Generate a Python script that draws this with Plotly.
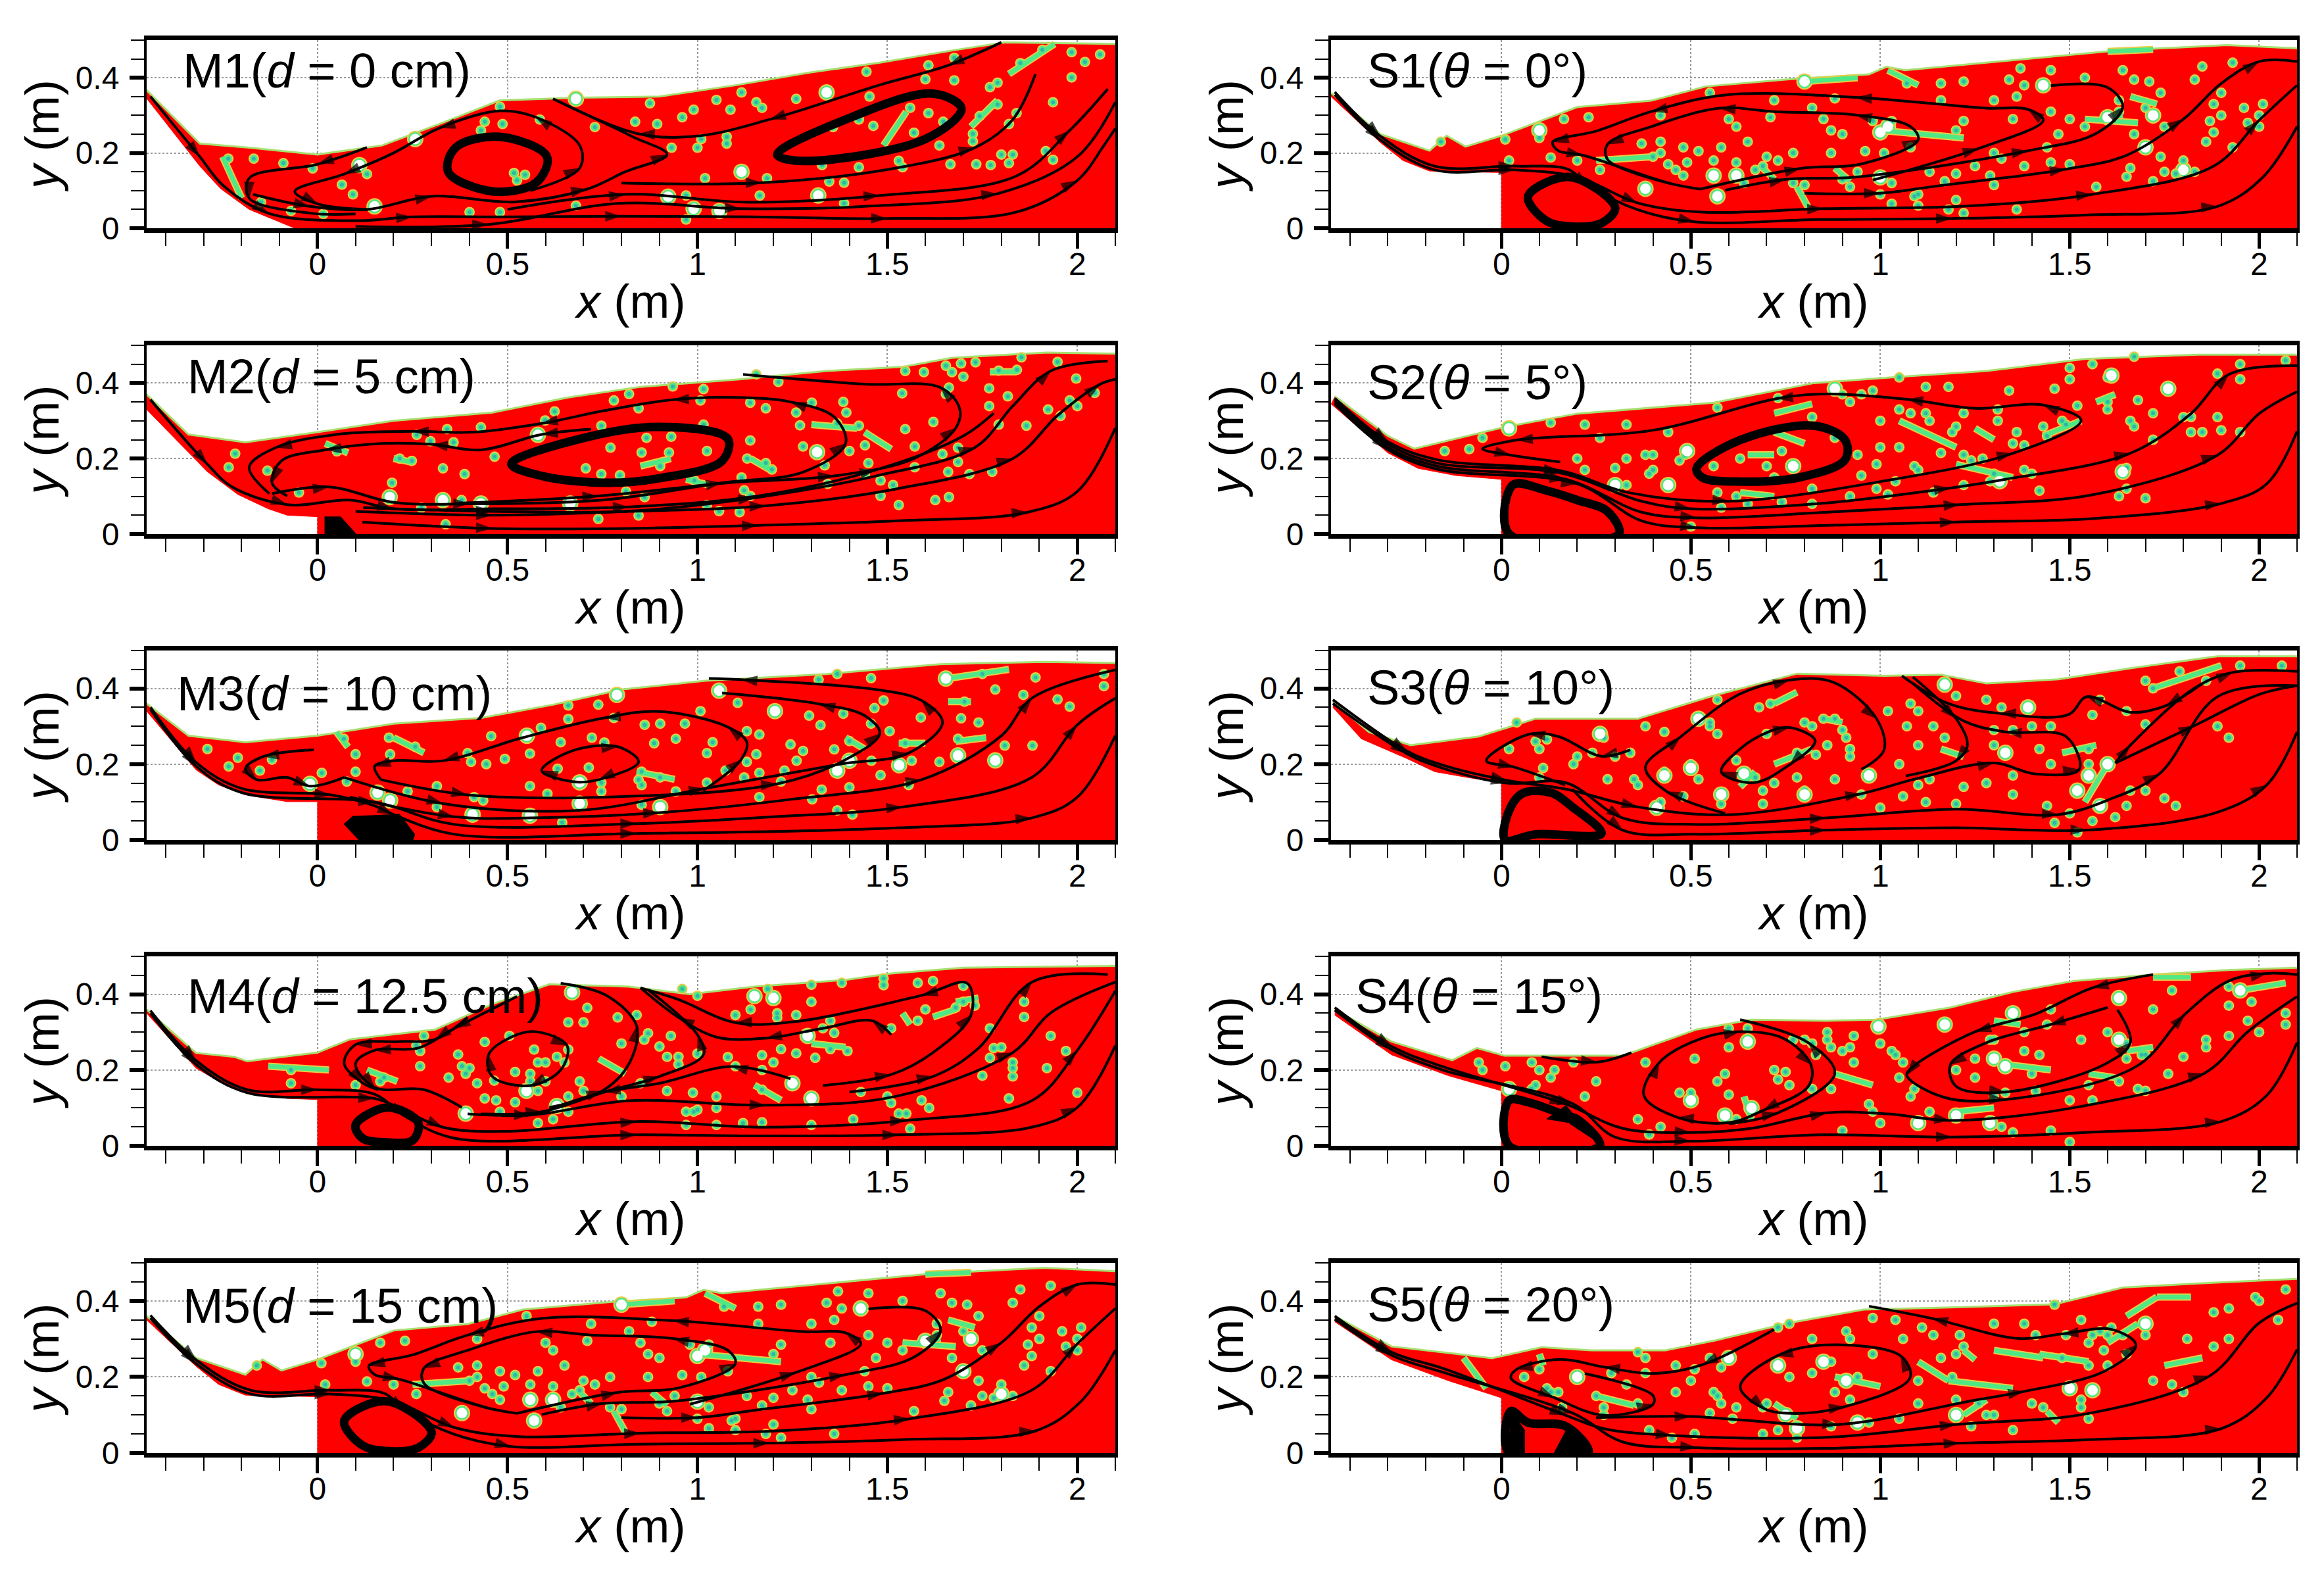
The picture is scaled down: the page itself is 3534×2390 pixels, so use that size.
import plotly.graph_objects as go

# ---------- M1 ----------
M1_surface = [(-.45,.367),(-.31,.225),(-.18,.214),(0,.196),(.17,.22),(.32,.277),(.48,.34),(.69,.347),(.9,.35),(1.1,.38),(1.29,.413),(1.48,.44),(1.68,.474),(1.81,.494),(2.1,.49)]
M1_bed = [(2.1,0),(-.06,0),(-.1,.017),(-.18,.05),(-.255,.105),(-.31,.165),(-.45,.345)]
M1_lines = [
 [(-.17,.09),(-.02,.058),(.13,.05),(.3,.085),(.52,.07),(.71,.104),(.81,.15),(.92,.196),(.83,.243),(.62,.344)],
 [(.56,.1),(.69,.16),(.69,.22),(.575,.295),(.48,.312),(.32,.266),(.2,.2),(.07,.144),(-.06,.098),(.0,.065),(.13,.05)],
 [(.13,.215),(0,.17),(-.18,.133),(-.18,.08),(-.02,.04),(.1,.038)],
 [(-.44,.35),(-.31,.19),(-.25,.115),(-.13,.04),(.1,.02),(.25,.03),(.5,.03),(.8,.032),(1.15,.03),(1.5,.026),(1.84,.043),(2.0,.127),(2.07,.22),(2.1,.265)],
 [(.1,.005),(.45,.01),(.79,.066),(1.115,.052),(1.44,.058),(1.79,.092),(2.0,.19),(2.1,.335)],
 [(.5,.05),(.81,.09),(1.135,.069),(1.48,.087),(1.84,.139),(1.98,.26),(2.08,.37)],
 [(.8,.12),(1.17,.121),(1.5,.156),(1.73,.214),(1.83,.289),(1.89,.41)],
 [(1.8,.494),(1.66,.433),(1.48,.381),(1.19,.289),(1.0,.245),(.845,.251),(.62,.344)],
]
M1_rings = [
 [(.48,.243),(.604,.19),(.575,.121),(.46,.098),(.344,.15),(.363,.214),(.48,.243)],
 [(1.21,.196),(1.39,.289),(1.62,.358),(1.695,.318),(1.6,.237),(1.27,.179),(1.21,.196)],
]
M1_blobs = []
M1_bubbles = [(-.235,.185),(-.168,.185),(-.09,.173),(-.013,.159),(.13,.144),(.064,.116),(.093,.09),(-.149,.069),(-.07,.046),(.015,.038),(.4,.043),(.48,.043),(.68,.06),(.44,.283),(.487,.277),(.43,.26),(.585,.289),(.48,.323),(.73,.269),(.836,.283),(.894,.277),(.875,.332),(.96,.295),(.99,.315),(1.05,.341),(1.087,.315),(1.116,.361),(1.155,.335),(1.17,.32),(1.26,.344),(1.453,.35),(1.445,.416),(1.608,.433),(1.676,.453),(1.6,.396),(1.676,.393),(1.79,.387),(1.77,.375),(1.85,.439),(1.908,.474),(1.985,.468),(2.06,.462),(2.02,.442),(1.985,.401),(1.936,.335),(1.79,.329),(1.84,.306),(1.743,.298),(1.82,.277),(1.725,.251),(1.725,.231),(1.637,.22),(1.57,.254),(1.647,.283),(1.463,.272),(1.357,.269),(1.425,.289),(1.56,.32),(1.608,.306),(1.8,.196),(1.83,.196),(1.917,.205),(1.936,.182),(1.82,.173),(1.734,.17),(1.772,.168),(1.666,.17),(1.53,.179),(1.54,.162),(1.425,.162),(1.328,.168),(1.183,.133),(1.347,.124),(1.386,.121),(1.386,.066),(1.164,.087),(1.02,.133),(.932,.214),(1.0,.214),(1.077,.243),(1.077,.225),(1.01,.237),(.97,.087),(.97,.023),(.517,.147),(.546,.142),(.525,.127)]
M1_whites = [(.11,.168),(.15,.058),(.257,.237),(.68,.344),(1.34,.361),(1.116,.15),(1.318,.087),(.923,.084),(.99,.052),(1.058,.046)]
M1_streaks = [[(-.25,.19),(-.2,.08)],[(1.55,.31),(1.49,.22)],[(1.82,.41),(1.94,.49)],[(1.72,.27),(1.79,.34)]]

# ---------- M2 ----------
M2_surface = [(-.45,.37),(-.34,.264),(-.19,.243),(0,.27),(.2,.3),(.46,.322),(.66,.362),(.85,.39),(1.11,.41),(1.34,.432),(1.54,.443),(1.67,.467),(1.92,.481),(2.1,.478)]
M2_bed = [(2.1,0),(0,0),(0,.046),(-.08,.05),(-.13,.067),(-.21,.105),(-.29,.165),(-.45,.33)]
M2_lines = [
 [(.36,.081),(.74,.101),(1.08,.136),(1.36,.154),(1.57,.2),(1.68,.281),(1.69,.333),(1.64,.388),(1.44,.397),(1.12,.423)],
 [(-.12,.107),(.03,.125),(.2,.084),(.4,.08),(.75,.09),(1.065,.136),(1.28,.165),(1.39,.24),(1.36,.31),(1.245,.35),(1.1,.362),(.935,.356),(.755,.327),(.59,.293),(.41,.27),(.25,.272),(.05,.264),(-.11,.229),(-.18,.177),(-.127,.107)],
 [(.72,.278),(.59,.264),(.43,.223),(.3,.238),(.167,.24),(.02,.223),(-.095,.194),(-.12,.136),(-.08,.101)],
 [(-.44,.356),(-.29,.185),(-.225,.125),(-.08,.078),(.085,.09),(.2,.067),(.46,.067),(.82,.072),(1.16,.101),(1.47,.17),(1.7,.26),(1.78,.32)],
 [(.1,.06),(.46,.05),(.82,.06),(1.18,.075),(1.52,.119),(1.83,.2),(1.95,.316),(2.06,.397),(2.1,.41)],
 [(.12,.07),(.46,.06),(.82,.061),(1.15,.096),(1.47,.154),(1.73,.229),(1.83,.339),(1.93,.432),(2.08,.458)],
 [(.118,.032),(.46,.015),(.82,.015),(1.16,.023),(1.52,.035),(1.87,.058),(2.0,.113),(2.1,.281)],
]
M2_rings = [[(.51,.186),(.69,.252),(.9,.284),(1.08,.252),(1.065,.194),(.9,.148),(.755,.136),(.59,.154),(.51,.186)]]
M2_blobs = [[(.02,0),(.02,.045),(.06,.045),(.1,0)]]
M2_bubbles = [(-.217,.213),(-.234,.177),(-.132,.168),(.051,.219),(.216,.2),(.248,.194),(.261,.263),(.297,.246),(.358,.243),(.341,.278),(.43,.283),(.33,.174),(.387,.159),(.466,.205),(.196,.136),(-.049,.11),(.273,.07),(.379,.09),(.428,.081),(.337,.026),(.624,.325),(.599,.301),(.747,.287),(.78,.354),(.845,.333),(.82,.371),(.935,.391),(1.016,.384),(1.008,.354),(1.139,.348),(1.18,.333),(1.26,.322),(1.301,.348),(1.384,.35),(1.392,.322),(1.155,.423),(1.213,.403),(1.27,.288),(1.368,.293),(1.425,.287),(1.547,.278),(1.621,.297),(1.539,.373),(1.654,.446),(1.596,.429),(1.547,.432),(1.67,.429),(1.7,.417),(1.694,.452),(1.732,.455),(1.793,.433),(1.841,.435),(1.853,.468),(1.948,.456),(1.768,.386),(1.817,.365),(1.768,.339),(1.662,.388),(1.654,.371),(1.997,.412),(2.046,.374),(1.98,.354),(2.0,.339),(1.923,.33),(1.956,.313),(1.866,.287),(1.793,.29),(1.572,.232),(1.686,.229),(1.645,.212),(1.686,.191),(1.441,.235),(1.4,.22),(1.278,.232),(1.139,.248),(1.016,.29),(1.45,.188),(1.335,.182),(1.572,.177),(1.66,.165),(1.716,.159),(1.776,.165),(1.441,.159),(1.482,.142),(1.343,.133),(1.515,.13),(1.482,.101),(1.626,.09),(1.662,.098),(1.53,.077),(1.131,.2),(1.18,.188),(1.196,.171),(1.116,.15),(.992,.142),(1.123,.116),(1.139,.101),(1.025,.077),(1.111,.058),(1.057,.061),(.812,.113),(.861,.098),(.739,.04),(.845,.049),(.771,.229),(.853,.216),(.925,.216),(1.025,.22),(.706,.174),(.747,.159),(.796,.156),(.902,.18),(.866,.255),(.931,.258)]
M2_whites = [(.19,.098),(.33,.09),(.43,.081),(.58,.263),(.665,.081),(1.315,.217)]
M2_streaks = [[(.02,.24),(.08,.215)],[(.2,.2),(.25,.19)],[(1.44,.27),(1.51,.225)],[(1.14,.2),(1.2,.165)],[(.97,.145),(1.03,.13)],[(.85,.18),(.93,.2)],[(1.3,.29),(1.42,.28)],[(1.77,.43),(1.84,.43)]]

# ---------- M3 ----------
M3_surface = [(-.45,.36),(-.34,.275),(-.19,.258),(0,.275),(.2,.307),(.43,.322),(.62,.357),(.8,.397),(1.02,.42),(1.34,.438),(1.64,.464),(1.91,.47),(2.1,.467)]
M3_bed = [(2.1,0),(0,0),(0,.101),(-.08,.101),(-.19,.119),(-.26,.145),(-.32,.185),(-.45,.34)]
M3_lines = [
 [(-.44,.35),(-.32,.205),(-.2,.136),(.035,.119),(.15,.09),(.2,.067),(.36,.015),(.84,.017),(1.53,.032),(1.88,.058),(2.0,.113),(2.1,.275)],
 [(-.44,.345),(-.32,.195),(-.2,.125),(.15,.1),(.36,.041),(.84,.043),(1.2,.061),(1.54,.087),(1.88,.165),(2.0,.304),(2.1,.374)],
 [(.085,.113),(.36,.061),(.56,.058),(.9,.072),(1.245,.107),(1.59,.159),(1.8,.275),(1.88,.374),(2.1,.449)],
 [(.07,.165),(.33,.096),(.69,.078),(1.02,.136),(1.375,.2),(1.555,.229),(1.645,.31),(1.59,.368),(1.47,.397),(1.115,.423),(1.03,.426)],
 [(.167,.159),(.395,.119),(.755,.113),(1.21,.148),(1.39,.212),(1.48,.281),(1.44,.328),(1.32,.359),(1.065,.388)],
 [(1.015,.13),(1.115,.212),(1.13,.258),(1.08,.298),(.9,.339),(.755,.322),(.54,.27),(.33,.209),(.2,.209),(.15,.194),(.167,.159)],
 [(.67,.235),(.79,.246),(.845,.206),(.74,.159),(.67,.154),(.59,.183),(.67,.235)],
 [(-.01,.238),(-.144,.22),(-.19,.188),(-.16,.159),(-.08,.165),(-.02,.142),(.07,.165)],
]
M3_rings = []
M3_blobs = [[(.09,.061),(.215,.067),(.255,.014),(.25,0),(.11,0),(.07,.043)]]
M3_bubbles = [(-.29,.24),(-.21,.217),(-.12,.212),(-.152,.183),(-.234,.194),(.011,.177),(.077,.154),(.1,.18),(.069,.267),(.1,.226),(.188,.27),(.257,.246),(.191,.226),(.457,.274),(.395,.229),(.404,.206),(.444,.2),(.493,.214),(.559,.228),(.588,.296),(.66,.355),(.739,.357),(.66,.319),(.78,.322),(.64,.258),(.722,.27),(.755,.257),(.861,.304),(.902,.307),(.967,.307),(1.008,.34),(.943,.267),(.886,.255),(1.04,.258),(1.025,.229),(1.13,.287),(1.163,.278),(1.106,.362),(1.294,.328),(1.384,.333),(1.324,.303),(1.319,.423),(1.457,.427),(1.368,.438),(1.49,.368),(1.466,.348),(1.457,.307),(1.506,.287),(1.588,.323),(1.694,.321),(1.74,.31),(1.703,.365),(1.784,.397),(1.858,.383),(1.89,.429),(1.75,.438),(1.948,.371),(1.98,.352),(2.07,.438),(2.07,.406),(1.4,.261),(1.547,.255),(1.686,.267),(1.809,.249),(1.882,.249),(1.637,.206),(1.564,.209),(1.458,.209),(1.278,.235),(1.245,.252),(1.36,.239),(1.261,.209),(1.13,.206),(1.155,.226),(1.074,.183),(1.123,.165),(1.163,.177),(1.229,.183),(1.22,.154),(1.482,.171),(1.556,.145),(1.327,.133),(1.4,.139),(1.302,.107),(1.368,.078),(1.408,.067),(1.163,.113),(1.025,.151),(.943,.128),(.853,.18),(.902,.165),(.845,.159),(.853,.145),(.747,.151),(.632,.188),(.714,.191),(.559,.142),(.605,.122),(.314,.142),(.237,.128),(.412,.113),(.436,.104),(.314,.087),(.644,.046),(.747,.128),(.853,.093)]
M3_whites = [(-.02,.148),(.551,.275),(.788,.383),(1.057,.394),(1.204,.34),(1.654,.426),(1.686,.223),(1.784,.21),(1.531,.197),(1.4,.209),(1.368,.183),(.69,.152),(.158,.125),(.191,.104),(.408,.067),(.559,.064),(.69,.096),(.902,.087)]
M3_streaks = [[(1.65,.425),(1.82,.45)],[(.05,.285),(.08,.245)],[(.2,.27),(.28,.23)],[(1.72,.365),(1.66,.365)],[(1.39,.27),(1.44,.24)],[(.84,.18),(.94,.16)],[(1.68,.26),(1.76,.27)],[(1.53,.255),(1.6,.255)]]

# ---------- M4 ----------
M4_surface = [(-.45,.36),(-.32,.245),(-.22,.235),(-.185,.223),(0,.246),(.085,.281),(.31,.307),(.46,.374),(.61,.426),(.82,.42),(.98,.4),(1.15,.42),(1.39,.438),(1.51,.455),(1.7,.47),(2.1,.475)]
M4_bed = [(2.1,0),(0,0),(0,.122),(-.08,.125),(-.19,.142),(-.26,.17),(-.32,.205),(-.45,.35)]
M4_lines = [
 [(-.44,.357),(-.32,.225),(-.185,.148),(0,.148),(.15,.136),(.23,.078),(.36,.02),(.84,.029),(1.18,.026),(1.53,.029),(1.88,.049),(2.0,.101),(2.1,.264)],
 [(-.44,.35),(-.32,.215),(-.185,.14),(.15,.125),(.2,.107),(.33,.049),(.49,.038),(.84,.064),(1.18,.049),(1.55,.067),(1.88,.119),(2.0,.252),(2.1,.409)],
 [(.395,.084),(.56,.081),(.82,.119),(1.18,.107),(1.52,.13),(1.83,.246),(1.93,.351),(2.1,.432)],
 [(1.4,.142),(1.62,.183),(1.74,.258),(1.88,.432),(2.08,.452)],
 [(1.33,.159),(1.51,.188),(1.62,.246),(1.72,.345),(1.71,.429),(1.59,.397),(1.26,.328),(1.1,.325),(.95,.386),(.85,.417)],
 [(.43,.084),(.59,.09),(.755,.142),(.9,.183),(1.016,.241),(1.0,.293),(.87,.412)],
 [(1.245,.177),(1.09,.209),(.9,.165),(.755,.142),(.61,.096)],
 [(1.51,.293),(1.46,.33),(1.33,.31),(1.18,.284),(1.05,.287),(.95,.339),(.85,.417)],
 [(.61,.101),(.75,.145),(.82,.217),(.84,.316),(.76,.397),(.64,.429)],
 [(.395,.339),(.31,.281),(.215,.275),(.1,.267),(.07,.217),(.12,.165),(.16,.148)],
 [(.525,.394),(.36,.31),(.265,.258),(.15,.252),(.1,.217),(.15,.154),(.28,.148),(.38,.101)],
 [(.575,.301),(.657,.264),(.64,.2),(.56,.159),(.46,.183),(.45,.24),(.51,.287),(.575,.301)],
]
M4_rings = [[(.1,.055),(.185,.101),(.265,.061),(.25,.014),(.18,.009),(.118,.02),(.1,.055)]]
M4_blobs = []
M4_bubbles = [(-.07,.2),(-.07,.165),(.175,.18),(.1,.16),(.26,.265),(.28,.29),(.37,.241),(.27,.21),(.27,.25),(.38,.21),(.4,.205),(.39,.19),(.44,.274),(.505,.29),(.345,.18),(.165,.17),(.42,.165),(.465,.172),(.44,.125),(.47,.12),(.52,.115),(.52,.195),(.57,.254),(.56,.17),(.56,.19),(.6,.17),(.63,.235),(.66,.254),(.58,.22),(.6,.22),(.65,.22),(.58,.145),(.66,.13),(.69,.17),(.7,.145),(.7,.326),(.66,.326),(.71,.364),(.79,.339),(.84,.345),(.87,.297),(.93,.29),(.96,.414),(1.0,.396),(.86,.28),(.9,.262),(.8,.27),(.92,.235),(.95,.235),(.95,.215),(1.0,.243),(1.08,.234),(1.17,.239),(1.22,.255),(1.2,.22),(1.1,.21),(1.17,.2),(1.31,.232),(1.26,.244),(1.35,.255),(1.395,.25),(1.21,.35),(1.3,.38),(1.26,.345),(1.35,.33),(1.33,.31),(1.36,.298),(1.21,.338),(1.14,.36),(1.1,.345),(1.185,.414),(1.3,.425),(1.38,.43),(1.49,.442),(1.49,.424),(1.62,.435),(1.58,.43),(1.7,.422),(1.6,.36),(1.7,.38),(1.73,.37),(1.68,.365),(1.58,.33),(1.51,.31),(1.77,.31),(1.78,.258),(1.8,.26),(1.86,.38),(1.86,.34),(1.93,.29),(1.97,.25),(1.77,.232),(1.83,.205),(1.75,.185),(1.83,.183),(1.92,.205),(1.83,.22),(2.0,.14),(1.82,.125),(1.43,.142),(1.5,.13),(1.59,.12),(1.51,.113),(1.61,.1),(1.53,.085),(1.17,.148),(1.05,.13),(1.05,.1),(.99,.09),(.97,.055),(1.05,.055),(1.12,.06),(1.17,.062),(1.3,.055),(1.41,.07),(1.55,.085),(1.56,.045),(.58,.06),(.62,.07),(.48,.09),(.66,.09),(.97,.09),(.988,.14),(1.0,.095),(.85,.165),(.92,.145),(.8,.13)]
M4_whites = [(.39,.085),(.55,.145),(.63,.105),(1.25,.165),(1.3,.125),(1.29,.29),(1.2,.39),(1.15,.395),(.67,.405)]
M4_streaks = [[(.74,.23),(.81,.19)],[(.13,.2),(.21,.17)],[(.03,.2),(-.13,.21)],[(1.15,.16),(1.22,.12)],[(1.3,.27),(1.39,.26)],[(1.68,.38),(1.74,.39)],[(1.62,.34),(1.68,.36)],[(1.54,.35),(1.56,.32)]]

# ---------- M5 (S1 shows the same field) ----------
M5_surface = [(-.45,.36),(-.32,.25),(-.19,.206),(-.145,.246),(-.095,.217),(0,.246),(.2,.322),(.395,.339),(.54,.377),(.77,.397),(.97,.409),(1.016,.429),(1.065,.42),(1.34,.446),(1.62,.472),(1.915,.487),(2.1,.478)]
M5_bed = [(2.1,0),(0,0),(0,.148),(-.19,.152),(-.26,.18),(-.32,.228),(-.45,.35)]
M5_lines = [
 [(-.44,.362),(-.32,.245),(-.176,.165),(.035,.165),(.175,.157),(.23,.113),(.36,.049),(.51,.017),(.84,.023),(1.19,.026),(1.54,.035),(1.89,.058),(2.01,.136),(2.1,.27)],
 [(-.44,.355),(-.32,.235),(-.176,.155),(.035,.155),(.2,.136),(.36,.067),(.53,.043),(.85,.052),(1.21,.058),(1.56,.09),(1.88,.165),(2.0,.287),(2.1,.38)],
 [(.8,.093),(1.0,.093),(1.155,.113),(1.49,.157),(1.65,.194),(1.8,.29),(1.9,.385),(2.0,.443),(2.1,.443)],
 [(.59,.101),(.75,.13),(.935,.136),(1.39,.206),(1.57,.252),(1.64,.322),(1.6,.374),(1.45,.379)],
 [(.98,.128),(1.26,.212),(1.43,.287),(1.39,.316),(1.28,.319),(.935,.348),(.59,.354),(.395,.31),(.25,.258),(.135,.229),(.15,.206),(.215,.194),(.445,.119),(.525,.104)],
 [(.525,.104),(.79,.159),(.95,.171),(1.1,.235),(1.08,.27),(.935,.301),(.72,.31),(.575,.319),(.395,.27),(.28,.223),(.28,.183),(.445,.119)],
]
M5_rings = [[(.07,.084),(.18,.136),(.3,.055),(.265,.014),(.18,.005),(.118,.02),(.07,.084)]]
M5_blobs = []
M5_bubbles = [(-.16,.23),(.01,.236),(.23,.295),(.165,.29),(.1,.24),(.02,.18),(.13,.188),(.2,.18),(.26,.155),(.42,.3),(.55,.36),(.42,.23),(.37,.225),(.42,.2),(.44,.17),(.4,.19),(.52,.205),(.48,.215),(.49,.175),(.56,.18),(.46,.155),(.48,.14),(.58,.215),(.65,.23),(.7,.19),(.73,.18),(.77,.2),(.62,.175),(.69,.165),(.64,.12),(.67,.155),(.6,.29),(.62,.27),(.72,.34),(.71,.295),(.82,.32),(.88,.345),(.85,.29),(.87,.26),(.9,.25),(.98,.285),(1.03,.285),(.87,.2),(.96,.205),(1.01,.2),(1.08,.215),(.94,.15),(.9,.13),(.77,.12),(.8,.115),(.92,.11),(1.03,.12),(1.0,.09),(1.09,.085),(1.03,.065),(1.1,.06),(1.2,.075),(1.17,.125),(1.3,.115),(1.36,.05),(1.2,.145),(1.13,.15),(1.25,.165),(1.2,.26),(1.22,.285),(1.16,.34),(1.07,.385),(1.16,.385),(1.22,.39),(1.3,.34),(1.35,.29),(1.34,.395),(1.37,.425),(1.38,.38),(1.45,.42),(1.36,.35),(1.54,.4),(1.64,.42),(1.67,.395),(1.71,.39),(1.83,.395),(1.85,.43),(1.93,.44),(1.63,.34),(1.63,.31),(1.54,.27),(1.74,.36),(1.7,.32),(1.75,.27),(1.67,.25),(1.6,.29),(1.66,.16),(1.75,.15),(1.74,.19),(1.45,.175),(1.38,.165),(1.5,.17),(1.57,.11),(1.65,.137),(1.78,.145),(1.83,.15),(1.72,.125),(1.88,.255),(1.96,.32),(1.9,.36),(1.88,.33),(1.9,.3),(1.87,.285),(1.97,.28),(2.0,.3),(2.01,.33),(2.0,.27),(1.86,.23),(1.93,.215),(1.8,.18),(1.47,.25),(1.3,.2),(1.5,.29),(1.45,.31),(1.44,.215),(1.32,.185),(1.1,.09),(1.29,.14),(1.22,.04),(1.18,.05)]
M5_whites = [(.56,.14),(.62,.14),(.38,.105),(.57,.085),(1.0,.255),(1.02,.27),(.8,.39),(1.43,.38),(1.72,.3),(1.6,.295),(1.7,.215),(.1,.26),(1.0,.135),(1.8,.155)]
M5_streaks = [[(.78,.11),(.81,.055)],[(1.66,.35),(1.73,.33)],[(1.58,.29),(1.64,.3)],[(1.02,.42),(1.1,.38)],[(.8,.39),(.94,.4)],[(1.6,.47),(1.72,.475)],[(.69,.16),(.72,.13)],[(.88,.16),(.92,.125)],[(.25,.18),(.4,.19)],[(1.0,.26),(1.22,.24)],[(1.54,.29),(1.68,.28)]]

# ---------- S1 ----------
S1_surface, S1_bed, S1_lines, S1_rings, S1_blobs = M5_surface, M5_bed, M5_lines, M5_rings, M5_blobs
S1_bubbles, S1_whites, S1_streaks = M5_bubbles, M5_whites, M5_streaks

# ---------- S2 ----------
S2_surface = [(-.44,.365),(-.3,.26),(-.23,.226),(.01,.284),(.2,.319),(.56,.348),(.825,.4),(1.054,.417),(1.28,.432),(1.54,.464),(1.84,.475),(2.1,.475)]
S2_bed = [(2.1,0),(0,0),(0,.145),(-.12,.155),(-.22,.174),(-.3,.215),(-.45,.345)]
S2_lines = [
 [(-.44,.36),(-.3,.245),(-.17,.197),(.155,.168),(.335,.11),(.6,.087),(1.0,.139),(1.35,.214),(1.53,.301),(1.43,.342),(1.25,.333),(1.07,.357),(.86,.371),(.727,.359),(.4,.275),(.04,.249),(-.05,.226),(.025,.209),(.155,.191)],
 [(-.44,.355),(-.3,.238),(-.17,.188),(.155,.162),(.37,.087),(.5,.067),(.84,.081),(1.185,.122),(1.33,.145),(1.66,.214),(1.82,.319),(1.92,.423),(2.1,.446)],
 [(-.44,.35),(-.3,.23),(-.17,.18),(.17,.145),(.37,.058),(.515,.043),(.86,.058),(1.21,.078),(1.56,.104),(1.89,.209),(2.0,.319),(2.1,.377)],
 [(-.44,.345),(-.3,.224),(-.17,.172),(.2,.133),(.37,.035),(.515,.017),(.86,.023),(1.2,.032),(1.56,.041),(1.9,.081),(2.02,.133),(2.1,.272)],
]
S2_rings = [
 [(.515,.174),(.63,.249),(.825,.287),(.907,.249),(.907,.197),(.79,.151),(.63,.139),(.53,.15),(.515,.174)],
 [(.02,0),(.03,.13),(.12,.115),(.2,.09),(.28,.06),(.31,0),(.02,0)],
]
S2_blobs = []
S2_bubbles = [(-.15,.22),(-.085,.225),(-.05,.255),(.13,.295),(.22,.29),(.33,.29),(.26,.255),(.44,.27),(.485,.21),(.47,.195),(.38,.21),(.33,.2),(.4,.17),(.3,.175),(.57,.335),(.73,.36),(.9,.37),(.98,.38),(1.05,.415),(1.12,.39),(1.18,.39),(1.34,.38),(1.46,.385),(1.5,.44),(1.56,.45),(1.6,.415),(1.5,.41),(1.67,.47),(1.95,.45),(1.89,.425),(1.95,.41),(2.07,.46),(1.6,.35),(1.68,.355),(1.72,.32),(1.67,.285),(1.6,.33),(1.66,.3),(1.82,.31),(1.72,.25),(1.8,.31),(1.9,.275),(1.89,.31),(1.82,.27),(1.85,.27),(1.95,.27),(.95,.37),(.82,.31),(.88,.255),(.92,.35),(1.0,.3),(1.13,.3),(1.2,.285),(1.12,.32),(1.05,.33),(1.08,.32),(1.22,.32),(1.31,.3),(1.31,.33),(1.36,.27),(1.43,.285),(1.48,.3),(1.52,.34),(1.49,.29),(1.35,.24),(1.38,.235),(1.44,.26),(1.19,.27),(1.0,.23),(1.05,.23),(.94,.21),(.99,.185),(1.09,.18),(1.16,.215),(1.22,.21),(1.27,.2),(1.24,.195),(.72,.15),(.82,.12),(.92,.1),(.99,.12),(1.02,.105),(.95,.155),(1.1,.17),(1.04,.14),(1.4,.16),(1.42,.115),(1.14,.11),(1.22,.13),(1.3,.16),(1.29,.14),(1.38,.17),(1.65,.175),(1.65,.12),(1.63,.1),(1.7,.095),(.57,.11),(.62,.1),(.74,.085),(.65,.08),(.82,.08),(.58,.07),(.5,.02),(.22,.17),(.2,.2),(.4,.21),(.39,.16),(.33,.13),(.63,.2),(.7,.18),(.56,.18),(.74,.22)]
S2_whites = [(.02,.28),(.88,.385),(1.61,.42),(1.76,.385),(.77,.18),(.49,.22),(.44,.13),(.3,.13),(1.315,.14),(1.64,.165)]
S2_streaks = [[(.72,.32),(.82,.345)],[(.72,.27),(.8,.24)],[(.65,.21),(.72,.21)],[(1.05,.3),(1.2,.23)],[(1.25,.28),(1.3,.25)],[(1.43,.26),(1.53,.3)],[(1.2,.185),(1.35,.15)],[(.63,.11),(.72,.1)],[(1.62,.37),(1.57,.35)]]

# ---------- S3 ----------
S3_surface = [(-.445,.366),(-.35,.285),(-.24,.25),(-.06,.273),(.09,.32),(.36,.32),(.55,.378),(.78,.439),(1.01,.433),(1.16,.436),(1.28,.413),(1.47,.424),(1.66,.453),(1.89,.485),(2.1,.485)]
S3_bed = [(2.1,0),(0,0),(0,.151),(-.09,.165),(-.176,.18),(-.25,.215),(-.37,.267),(-.445,.35)]
S3_lines = [
 [(-.445,.37),(-.25,.235),(-.157,.198),(.015,.157),(.17,.134),(.36,.087),(.61,.067),(.95,.122),(1.1,.163),(1.3,.203),(1.41,.174),(1.525,.186),(1.49,.273),(1.33,.285),(1.22,.314),(1.086,.413)],
 [(-.445,.36),(-.25,.228),(-.157,.19),(.015,.15),(.17,.151),(.32,.058),(.51,.041),(.857,.058),(1.2,.081),(1.47,.067),(1.6,.105),(1.736,.174),(1.89,.378),(2.1,.407)],
 [(.187,.134),(.32,.026),(.51,.015),(.857,.026),(1.2,.032),(1.545,.026),(1.89,.073),(2.02,.145),(2.1,.285)],
 [(1.62,.203),(1.66,.25),(1.83,.401),(1.93,.442),(2.1,.445)],
 [(1.62,.203),(1.83,.302),(2.0,.384),(2.1,.407)],
 [(1.85,.413),(1.755,.355),(1.66,.337),(1.545,.378),(1.497,.331),(1.315,.334),(1.18,.36),(1.057,.433)],
 [(.59,.07),(.436,.128),(.38,.192),(.474,.273),(.627,.384),(.76,.422),(.876,.416),(.99,.32),(1.01,.238),(.95,.186)],
 [(1.086,.43),(1.2,.32),(1.23,.25),(1.2,.209),(1.067,.169)],
 [(.704,.285),(.76,.297),(.828,.262),(.76,.198),(.665,.151),(.58,.18),(.627,.238),(.704,.285)],
 [(.34,.238),(.264,.221),(.15,.273),(.073,.279),(-.04,.209),(.034,.192),(.168,.145)],
]
S3_rings = [[(.01,0),(.015,.064),(.054,.122),(.13,.125),(.187,.087),(.264,.017),(.09,.015),(.01,0)]]
S3_blobs = []
S3_bubbles = [(.12,.265),(.04,.31),(.24,.23),(.27,.27),(.38,.3),(.43,.285),(.3,.22),(.34,.23),(.02,.24),(.1,.24),(.09,.26),(.2,.22),(.19,.2),(.11,.19),(.1,.165),(.28,.16),(.35,.16),(.36,.145),(.42,.1),(.48,.115),(.55,.3),(.57,.37),(.55,.31),(.57,.28),(.7,.28),(.68,.35),(.71,.36),(.8,.31),(.85,.32),(.88,.32),(.82,.3),(.9,.29),(.91,.27),(.92,.22),(.92,.24),(.86,.25),(.83,.225),(.78,.23),(.88,.16),(.78,.165),(.72,.15),(.8,.13),(.62,.21),(.67,.165),(.69,.13),(1.02,.34),(1.08,.36),(1.1,.34),(1.07,.3),(1.14,.3),(1.2,.38),(1.28,.37),(1.32,.35),(1.3,.29),(1.35,.29),(1.4,.3),(1.1,.25),(1.17,.27),(1.05,.2),(1.3,.25),(1.42,.24),(1.45,.3),(1.56,.33),(1.58,.37),(1.65,.34),(1.72,.4),(1.7,.42),(1.79,.445),(1.95,.46),(2.06,.46),(1.86,.42),(1.89,.3),(1.92,.27),(1.7,.305),(1.55,.24),(1.55,.2),(1.45,.2),(1.35,.17),(1.28,.15),(1.22,.14),(1.13,.16),(1.1,.145),(1.06,.115),(1.12,.1),(1.35,.12),(1.44,.09),(1.66,.13),(1.7,.13),(1.75,.11),(1.78,.09),(1.65,.09),(1.62,.06),(1.56,.05),(1.5,.07),(1.46,.045),(1.52,.02),(1.2,.095),(1.0,.085),(.95,.12),(.69,.095),(.58,.095),(.43,.18),(.52,.16),(.5,.2)]
S3_whites = [(.5,.19),(.52,.32),(.64,.175),(.43,.17),(.58,.12),(.41,.085),(.8,.12),(.97,.17),(1.33,.23),(1.55,.17),(1.52,.13),(1.6,.2),(1.58,.09),(1.17,.41),(1.39,.35),(.26,.28)]
S3_streaks = [[(.72,.36),(.78,.39)],[(.63,.14),(.67,.18)],[(.72,.2),(.82,.24)],[(1.72,.4),(1.9,.46)],[(1.48,.23),(1.57,.25)],[(1.54,.1),(1.6,.2)],[(1.22,.22),(1.16,.24)],[(.85,.32),(.9,.31)]]

# ---------- S4 ----------
S4_surface = [(-.44,.36),(-.29,.275),(-.13,.226),(-.065,.258),(.008,.238),(.32,.238),(.515,.307),(.66,.333),(.858,.33),(.99,.333),(1.185,.365),(1.35,.406),(1.51,.435),(1.72,.452),(1.92,.464),(2.1,.47)]
S4_bed = [(2.1,0),(0,0),(0,.145),(-.14,.185),(-.29,.24),(-.44,.345)]
S4_lines = [
 [(-.44,.365),(-.29,.262),(-.155,.209),(.17,.11),(.32,.046),(.5,.035),(.66,.046),(.858,.087),(1.02,.084),(1.185,.067),(1.53,.104),(1.855,.191),(1.97,.301),(2.1,.394)],
 [(-.44,.358),(-.29,.254),(-.155,.2),(.19,.11),(.3,.023),(.5,.012),(.84,.029),(1.19,.023),(1.54,.035),(1.9,.064),(2.02,.133),(2.1,.272)],
 [(.6,.058),(.73,.087),(.88,.191),(.81,.272),(.63,.333)],
 [(.6,.061),(.465,.075),(.376,.133),(.417,.22),(.53,.284),(.63,.301),(.743,.284),(.817,.214),(.81,.157),(.69,.093),(.6,.061)],
 [(.106,.235),(.253,.221),(.343,.246)],
 [(1.72,.452),(1.56,.417),(1.41,.348),(1.25,.301),(1.087,.209),(1.07,.186),(1.168,.128),(1.33,.122),(1.675,.209),(1.805,.348),(1.92,.435),(2.02,.455),(2.1,.452)],
 [(1.6,.365),(1.446,.319),(1.28,.272),(1.185,.214),(1.2,.157),(1.33,.142),(1.59,.214),(1.66,.272),(1.626,.359)],
]
S4_rings = [[(.02,0),(.02,.12),(.07,.115),(.17,.08),(.2,.07),(.26,0),(.02,0)]]
S4_blobs = [[(.12,.07),(.17,.105),(.2,.07),(.24,.02),(.18,.06)]]
S4_bubbles = [(-.06,.22),(-.05,.2),(.01,.21),(.08,.22),(.1,.2),(.14,.2),(.19,.22),(.13,.18),(.25,.17),(.09,.16),(.08,.15),(.22,.13),(.38,.22),(.51,.23),(.57,.17),(.6,.26),(.6,.135),(.59,.19),(.47,.14),(.5,.14),(.6,.31),(.65,.31),(.77,.28),(.8,.28),(.82,.27),(.83,.24),(.72,.2),(.75,.195),(.73,.175),(.76,.16),(.82,.15),(.87,.15),(.86,.3),(.86,.28),(.87,.26),(.92,.26),(.9,.25),(.93,.29),(1.0,.27),(.93,.22),(1.03,.25),(1.04,.24),(1.06,.22),(1.05,.18),(1.09,.15),(1.08,.13),(.97,.11),(1.25,.23),(1.2,.2),(1.3,.28),(1.38,.3),(1.44,.32),(1.45,.36),(1.29,.28),(1.38,.25),(1.42,.24),(1.53,.28),(1.6,.3),(1.65,.27),(1.69,.24),(1.7,.24),(1.65,.23),(1.72,.36),(1.77,.41),(1.92,.42),(1.98,.38),(1.92,.37),(1.97,.33),(1.86,.28),(1.92,.29),(2.0,.3),(2.07,.35),(2.07,.32),(1.86,.26),(1.8,.235),(1.76,.19),(1.68,.15),(1.63,.17),(1.7,.145),(1.5,.12),(1.41,.145),(1.55,.16),(1.56,.12),(1.3,.13),(1.33,.14),(1.4,.19),(1.25,.18),(.98,.09),(1.0,.06),(.9,.04),(.62,.07),(.36,.07),(.42,.05),(.39,.03),(1.32,.05),(1.35,.035),(1.45,.04),(1.5,.01),(1.13,.09),(1.1,.06)]
S4_whites = [(.65,.275),(.995,.315),(1.17,.32),(1.35,.35),(.5,.12),(.59,.08),(1.63,.28),(1.63,.39),(1.3,.23),(1.33,.21),(1.2,.08),(1.1,.06),(1.29,.06),(.02,.15),(1.95,.41),(.66,.1)]
S4_streaks = [[(.88,.19),(.98,.16)],[(.64,.13),(.66,.07)],[(1.55,.19),(1.62,.18)],[(1.2,.09),(1.3,.1)],[(1.65,.25),(1.72,.26)],[(1.95,.41),(2.07,.43)],[(1.72,.445),(1.82,.445)],[(1.3,.33),(1.37,.32)],[(1.33,.215),(1.45,.2)]]

# ---------- S5 ----------
S5_surface = [(-.44,.36),(-.29,.28),(-.12,.261),(-.025,.249),(.106,.278),(.237,.27),(.433,.27),(.564,.296),(.76,.342),(.956,.377),(1.185,.383),(1.46,.391),(1.64,.435),(1.84,.446),(2.1,.458)]
S5_bed = [(2.1,0),(0,0),(0,.145),(-.14,.19),(-.29,.245),(-.44,.345)]
S5_lines = [
 [(-.44,.36),(-.29,.265),(-.147,.22),(.17,.099),(.27,.064),(.45,.046),(.858,.041),(1.2,.075),(1.55,.104),(1.87,.203),(2.0,.342),(2.1,.394)],
 [(-.44,.352),(-.29,.257),(-.147,.21),(.19,.104),(.32,.029),(.515,.014),(.858,.012),(1.21,.026),(1.55,.035),(1.9,.064),(2.02,.145),(2.1,.272)],
 [(.25,.093),(.5,.096),(.63,.087),(.89,.075),(1.25,.139),(1.38,.162),(1.59,.214),(1.675,.284),(1.61,.325),(1.48,.313),(1.365,.301),(1.136,.354),(.97,.386)],
 [(.776,.104),(.907,.122),(1.078,.197),(1.054,.255),(.858,.284),(.727,.255),(.63,.174),(.695,.116),(.776,.104)],
 [(.72,.325),(.53,.232),(.4,.209),(.27,.226),(.155,.246),(.04,.22),(.025,.197),(.14,.145),(.27,.099),(.4,.128),(.4,.151),(.22,.209)],
]
S5_rings = [[(.02,0),(.025,.11),(.07,.08),(.17,.07),(.23,0),(.02,0)]]
S5_blobs = [[(.02,.0),(.025,.11),(.06,.06),(.06,0)],[(.14,.0),(.18,.075),(.24,0)]]
S5_bubbles = [(.1,.22),(.06,.2),(.12,.17),(.13,.16),(.25,.15),(.27,.12),(.29,.21),(.38,.21),(.51,.22),(.5,.19),(.58,.225),(.46,.16),(.57,.15),(.58,.13),(.62,.12),(.55,.105),(.69,.12),(.36,.265),(.38,.25),(.55,.25),(.73,.33),(.76,.34),(.91,.32),(.92,.3),(.82,.3),(.98,.355),(1.04,.35),(1.11,.33),(1.21,.31),(1.06,.3),(1.14,.31),(1.22,.28),(1.2,.26),(1.16,.25),(1.3,.34),(1.38,.34),(1.41,.31),(1.46,.39),(1.53,.35),(1.49,.31),(1.56,.31),(1.6,.31),(1.61,.33),(1.65,.26),(1.59,.27),(1.55,.29),(1.58,.32),(1.64,.31),(1.7,.31),(1.81,.3),(1.88,.28),(1.92,.3),(1.92,.38),(1.99,.41),(2.0,.4),(2.07,.43),(2.05,.35),(1.88,.37),(1.6,.23),(1.55,.23),(1.48,.25),(1.72,.19),(1.77,.18),(1.8,.16),(1.53,.14),(1.53,.12),(1.55,.09),(1.43,.12),(1.26,.13),(1.28,.1),(1.3,.1),(1.24,.07),(1.4,.13),(.98,.26),(.87,.24),(.82,.21),(.94,.2),(.88,.16),(.92,.14),(.76,.2),(.7,.13),(.56,.16),(.61,.09),(.33,.18),(.36,.13),(.15,.16),(.16,.12),(.27,.1),(.39,.06),(.45,.04),(.51,.05),(.69,.05),(.73,.06),(.78,.04),(.87,.07),(1.35,.06),(1.1,.19),(1.2,.14),(.97,.08),(1.05,.09),(1.1,.13),(1.19,.2),(.46,.23)]
S5_whites = [(.78,.065),(.75,.1),(.2,.2),(.94,.08),(.6,.25),(.73,.23),(.85,.24),(.91,.19),(1.2,.1),(1.5,.17),(1.56,.165),(1.7,.34)]
S5_streaks = [[(1.65,.36),(1.73,.41)],[(1.73,.41),(1.82,.41)],[(1.6,.29),(1.68,.34)],[(1.3,.27),(1.43,.25)],[(.25,.15),(.35,.125)],[(.88,.2),(1.0,.175)],[(1.1,.24),(1.18,.19)],[(1.18,.19),(1.35,.17)],[(1.28,.14),(1.22,.1)],[(1.44,.11),(1.47,.08)],[(.1,.26),(.11,.23)],[(-.1,.25),(-.04,.17)],[(1.75,.23),(1.85,.25)],[(1.22,.27),(1.25,.245)],[(1.42,.26),(1.55,.24)],[(.72,.13),(.78,.09)]]

PANEL_NAMES = ["M1","M2","M3","M4","M5","S1","S2","S3","S4","S5"]
LABEL_TEXTS = ["M1(<i>d</i> = 0 cm)","M2(<i>d</i> = 5 cm)","M3(<i>d</i> = 10 cm)","M4(<i>d</i> = 12.5 cm)","M5(<i>d</i> = 15 cm)",
               "S1(<i>θ</i> = 0°)","S2(<i>θ</i> = 5°)","S3(<i>θ</i> = 10°)","S4(<i>θ</i> = 15°)","S5(<i>θ</i> = 20°)"]
LABEL_X = [-.358,-.346,-.374,-.346,-.358,-.358,-.358,-.358,-.389,-.358]
LABEL_Y = [.418,.418,.387,.395,.387,.418,.402,.402,.395,.39]

# ---------- layout constants (page body has an 8 px margin) ----------
PAGE_MARGIN = 8
W, H = 3534 - 2 * PAGE_MARGIN, 2390 - 2 * PAGE_MARGIN
COL_X = [(223, 1696), (2024, 3493)]
ROW_Y = [(61, 347), (525, 812), (989, 1277), (1454, 1742), (1920, 2209)]
FONT = "Liberation Sans"
RED, YEL, GRN, TEAL = "#ff0000", "#eccb45", "#4fe884", "#32b4a8"

fig = go.Figure()

def xs(pts): return [p[0] for p in pts]
def ys(pts): return [p[1] for p in pts]

for i, name in enumerate(PANEL_NAMES):
    g = globals()
    surface, bed = g[name + "_surface"], g[name + "_bed"]
    lines, rings, blobs = g[name + "_lines"], g[name + "_rings"], g[name + "_blobs"]
    bubbles, whites, streaks = g[name + "_bubbles"], g[name + "_whites"], g[name + "_streaks"]
    ax = dict(xaxis=f"x{i+1}", yaxis=f"y{i+1}", showlegend=False, hoverinfo="skip")

    outline = surface + bed
    fig.add_trace(go.Scatter(x=xs(outline), y=ys(outline), mode="lines", fill="toself", fillcolor=RED,
                             line=dict(color=RED, width=1), **ax))
    fig.add_trace(go.Scatter(x=xs(surface), y=ys(surface), mode="lines", line=dict(color="#a8e070", width=3), **ax))

    for colr, wid, swid in ((YEL, 14, 11), (GRN, 10, 7), (TEAL, 4, 0)):
        if swid:
            for s in streaks:
                fig.add_trace(go.Scatter(x=xs(s), y=ys(s), mode="lines", line=dict(color=colr, width=swid), **ax))
        if colr == YEL:
            fig.add_trace(go.Scatter(x=xs(whites), y=ys(whites), mode="markers",
                                     marker=dict(size=23, color=GRN, line=dict(width=2, color=YEL)), **ax))
        fig.add_trace(go.Scatter(x=xs(bubbles), y=ys(bubbles), mode="markers",
                                 marker=dict(size=wid + 2, color=colr), **ax))
    fig.add_trace(go.Scatter(x=xs(whites), y=ys(whites), mode="markers", marker=dict(size=16, color="white"), **ax))

    for b in blobs:
        fig.add_trace(go.Scatter(x=xs(b), y=ys(b), mode="lines", fill="toself", fillcolor="black",
                                 line=dict(color="black", width=2), **ax))
    for r in rings:
        fig.add_trace(go.Scatter(x=xs(r), y=ys(r), mode="lines",
                                 line=dict(color="black", width=13, shape="spline", smoothing=1), **ax))
    for ln in lines:
        sizes = [26 if 0 < k < len(ln) - 1 and k % 2 == 1 else 0 for k in range(len(ln))]
        fig.add_trace(go.Scatter(x=xs(ln), y=ys(ln), mode="lines+markers",
                                 line=dict(color="black", width=4, shape="spline", smoothing=1),
                                 marker=dict(symbol="arrow", size=sizes, color="black", angleref="previous",
                                             line=dict(width=0)), **ax))

    col, row = (0, i) if i < 5 else (1, i - 5)
    x0, x1 = COL_X[col]
    top, bot = ROW_Y[row]
    sx = "" if i == 0 else str(i + 1)
    fig.layout["xaxis" + sx] = dict(
        domain=[(x0 - PAGE_MARGIN) / W, (x1 - PAGE_MARGIN) / W], anchor=f"y{i+1}", range=[-.45, 2.1], tick0=0, dtick=.5,
        automargin=False,
        showline=True, linecolor="black", linewidth=7, mirror=True,
        ticks="outside", ticklen=24, tickwidth=5, tickcolor="black",
        minor=dict(dtick=.1, tick0=0, ticks="outside", ticklen=20, tickwidth=2, tickcolor="black", showgrid=False),
        showgrid=True, gridcolor="#9a9a9a", griddash="dot", gridwidth=2, zeroline=False,
        tickfont=dict(family=FONT, size=48, color="black"), ticklabelstandoff=-18,
        title=dict(text="<i>x</i> (m)", font=dict(family=FONT, size=73, color="black"), standoff=8),
    )
    fig.layout["yaxis" + sx] = dict(
        domain=[1 - (bot - PAGE_MARGIN) / H, 1 - (top - PAGE_MARGIN) / H], anchor=f"x{i+1}", range=[0, .5], tick0=0, dtick=.2,
        automargin=False,
        showline=True, linecolor="black", linewidth=4, mirror=True,
        ticks="outside", ticklen=22, tickwidth=6, tickcolor="black",
        minor=dict(dtick=.05, tick0=0, ticks="outside", ticklen=20, tickwidth=2, tickcolor="black", showgrid=False),
        showgrid=True, gridcolor="#9a9a9a", griddash="dot", gridwidth=2, zeroline=False,
        tickfont=dict(family=FONT, size=48, color="black"), ticklabelstandoff=6,
        title=dict(text="<i>y</i> (m)", font=dict(family=FONT, size=73, color="black"), standoff=2),
    )
    fig.add_annotation(x=LABEL_X[i], y=LABEL_Y[i], xref=f"x{i+1}", yref=f"y{i+1}", text=LABEL_TEXTS[i],
                       showarrow=False, xanchor="left", yanchor="middle",
                       font=dict(family=FONT, size=74, color="black"))

fig.update_layout(width=W, height=H, margin=dict(l=0, r=0, t=0, b=0), paper_bgcolor="white",
                  plot_bgcolor="white", showlegend=False)
fig.write_html("out.html")
